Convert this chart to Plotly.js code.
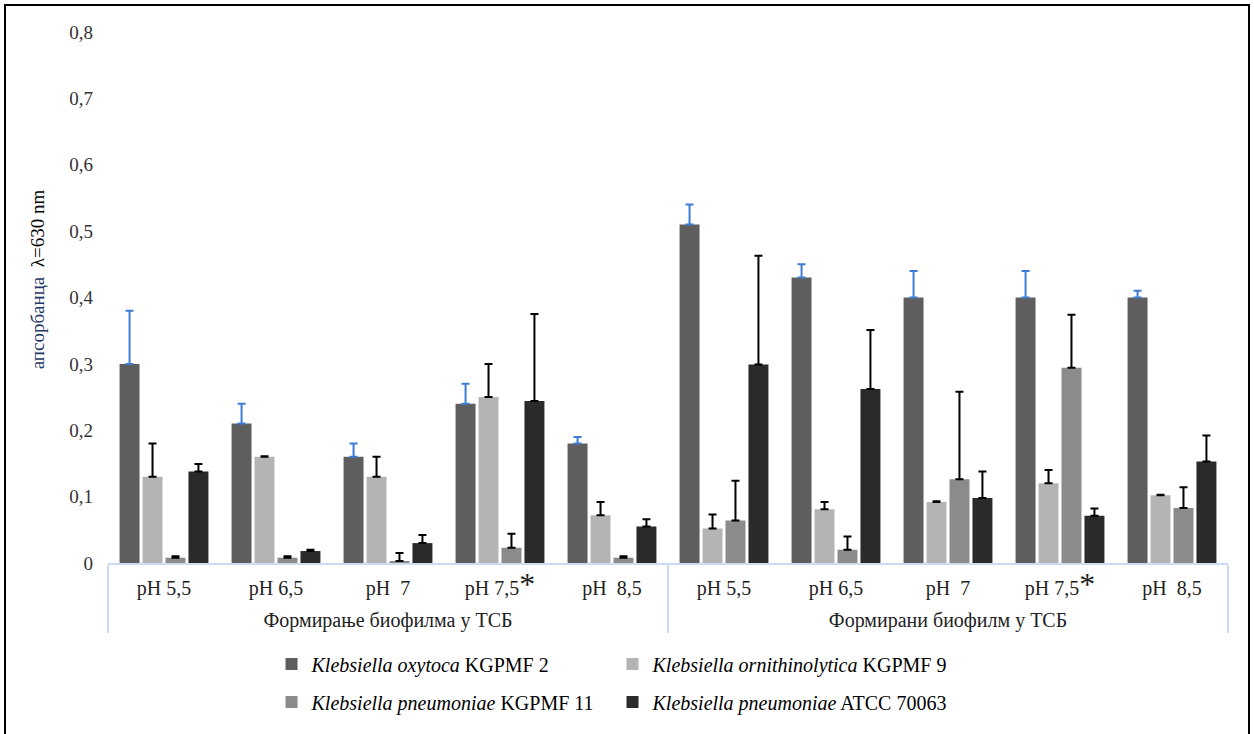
<!DOCTYPE html>
<html>
<head>
<meta charset="utf-8">
<script src="https://cdn.plot.ly/plotly-3.0.1.min.js"></script>
<style>
  html, body { margin: 0; padding: 0; background: #fff; }
  #wrap { position: relative; width: 1254px; height: 734px; }
  #chart { position: absolute; left: 0; top: 0; width: 1254px; height: 734px; }
  #frame { position: absolute; left: 4px; top: 4px; width: 1242px; height: 730px; border: 2px solid #000; border-bottom: none; pointer-events: none; }
</style>
</head>
<body>
<div id="wrap">
  <div id="chart"></div>
  <div id="frame"></div>
</div>
<script>
// ---- data ----
const groupLabels = ["Формирање биофилма у ТСБ", "Формирани биофилм у ТСБ"];
const phLabels = ["pH 5,5", "pH 6,5", "pH  7", "pH 7,5<span style='font-size:32px'>*</span>", "pH  8,5"];

const seriesNames = [
  "<i>Klebsiella oxytoca</i> KGPMF 2",
  "<i>Klebsiella ornithinolytica</i> KGPMF 9",
  "<i>Klebsiella pneumoniae</i> KGPMF 11",
  "<i>Klebsiella pneumoniae</i> ATCC 70063"
];

const oxytoca      = [0.30, 0.21, 0.16, 0.24, 0.18, 0.51, 0.43, 0.40, 0.40, 0.40];
const oxytocaErr   = [0.08, 0.03, 0.02, 0.03, 0.01, 0.03, 0.02, 0.04, 0.04, 0.01];
const ornith       = [0.13, 0.16, 0.13, 0.25, 0.072, 0.052, 0.081, 0.092, 0.12, 0.102];
const ornithErr    = [0.05, 0.001, 0.03, 0.05, 0.02, 0.021, 0.011, 0.001, 0.02, 0.001];
const pneu11       = [0.008, 0.008, 0.003, 0.023, 0.008, 0.064, 0.02, 0.126, 0.294, 0.083];
const pneu11Err    = [0.002, 0.002, 0.012, 0.021, 0.002, 0.06, 0.02, 0.132, 0.08, 0.031];
const atcc         = [0.138, 0.018, 0.03, 0.244, 0.055, 0.299, 0.262, 0.098, 0.071, 0.153];
const atccErr      = [0.011, 0.002, 0.012, 0.131, 0.011, 0.164, 0.089, 0.04, 0.011, 0.039];

const yTicks = [0, 0.1, 0.2, 0.3, 0.4, 0.5, 0.6, 0.7, 0.8];

// ---- build ----
const outer = [], inner = [];
groupLabels.forEach(g => phLabels.forEach(p => { outer.push(g); inner.push(p); }));
const xCats = [outer, inner];

const colors = ["#5e5e5e", "#b4b4b4", "#8b8b8b", "#2a2a2a"];
const errColors = ["#3d7bd4", "#000000", "#000000", "#000000"];
const vals = [oxytoca, ornith, pneu11, atcc];
const errs = [oxytocaErr, ornithErr, pneu11Err, atccErr];
const legends = ["legend", "legend", "legend2", "legend2"];

const traces = vals.map((v, i) => ({
  type: "bar",
  name: seriesNames[i],
  x: xCats,
  y: v,
  marker: { color: colors[i], line: { width: 0 } },
  error_y: {
    type: "data", symmetric: false,
    array: errs[i], arrayminus: v.map(() => 0),
    color: errColors[i], thickness: 2, width: 4
  },
  legend: legends[i],
  hoverinfo: "skip"
}));

const serif = "Liberation Serif";

const layout = {
  width: 1254, height: 734,
  margin: { l: 108, r: 26, t: 32, b: 169 },
  paper_bgcolor: "#ffffff", plot_bgcolor: "#ffffff",
  separators: ", ",
  barmode: "group",
  bargap: 0.18,
  bargroupgap: 0.13,
  font: { family: serif, size: 19, color: "#333333" },
  xaxis: {
    type: "multicategory",
    showline: true, linecolor: "#c9dcf2", linewidth: 2,
    showdividers: true, dividercolor: "#c9dcf2", dividerwidth: 2,
    showgrid: false, ticks: "", zeroline: false,
    ticklabelstandoff: 6,
    tickfont: { family: serif, size: 20, color: "#222222" }
  },
  yaxis: {
    range: [0, 0.8], tickvals: yTicks,
    showgrid: false, zeroline: false, showline: false, ticks: "",
    ticklabelstandoff: 14,
    tickfont: { family: serif, size: 19, color: "#333333" }
  },
  showlegend: true,
  legend: {
    orientation: "h", x: 0.146, xanchor: "left", y: -0.19, yanchor: "middle",
    entrywidth: 296, entrywidthmode: "pixels",
    font: { family: serif, size: 20, color: "#000000" },
    bgcolor: "rgba(0,0,0,0)", itemclick: false
  },
  legend2: {
    orientation: "h", x: 0.146, xanchor: "left", y: -0.262, yanchor: "middle",
    entrywidth: 296, entrywidthmode: "pixels",
    font: { family: serif, size: 20, color: "#000000" },
    bgcolor: "rgba(0,0,0,0)", itemclick: false
  },
  annotations: [{
    text: "<span style='color:#1f3a68'>апсорбанца</span>  λ=630 nm",
    textangle: -90, xref: "paper", yref: "paper",
    x: -0.063, y: 0.535, xanchor: "center", yanchor: "middle",
    showarrow: false, font: { family: serif, size: 19, color: "#000000" }
  }]
};

Plotly.newPlot("chart", traces, layout, { displayModeBar: false, staticPlot: true });
</script>
</body>
</html>
